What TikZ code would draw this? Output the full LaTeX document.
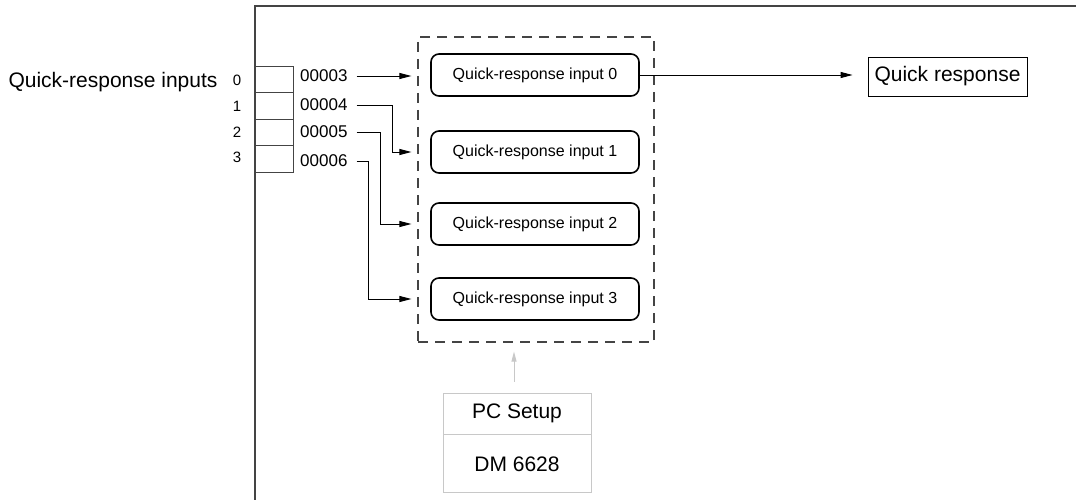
\documentclass[tikz,border=0pt]{standalone}
\usepackage{fontspec}
\setmainfont{Liberation Sans}
\usepackage{tikz}
\usetikzlibrary{positioning,arrows.meta,calc}
\definecolor{framegray}{HTML}{444444}
\definecolor{setupgray}{HTML}{C8C8C8}

\begin{document}
\begin{tikzpicture}[
  x=1pt, y=-1pt,
  reg/.style={draw=framegray, line width=0.9pt, minimum width=38pt, minimum height=26.5pt, inner sep=0pt},
  bit/.style={font=\fontsize{15}{17}\selectfont, inner sep=0pt},
  code/.style={font=\fontsize{17}{20}\selectfont, anchor=west, inner sep=3pt},
  inbox/.style={draw, line width=1.6pt, rounded corners=8pt, minimum width=208pt, minimum height=42pt,
                font=\fontsize{16}{19}\selectfont},
  grpbox/.style={draw=framegray, line width=1.2pt, dash pattern=on 10pt off 7pt,
                 minimum width=236pt, minimum height=305pt},
  bigtxt/.style={font=\fontsize{21}{25}\selectfont},
  setup/.style={draw=setupgray, line width=0.9pt, minimum width=148pt, font=\fontsize{21}{25}\selectfont},
  arr/.style={-{Triangle[length=12pt,width=6pt]}, line width=0.9pt},
  garr/.style={-{Triangle[length=10pt,width=5pt]}, line width=0.9pt, color=setupgray},
]
  \useasboundingbox (0,0) rectangle (1076,500);
  % frame
  \draw[framegray, line width=1.5pt] (255,500) -- (255,6) -- (1076,6);

  % input registers
  \node[bigtxt, anchor=east] (lbl) at (221,82) {Quick-response inputs};
  \node[reg] (r0) at (274,79.25)  {};
  \node[reg] (r1) at (274,105.75) {};
  \node[reg] (r2) at (274,132.25) {};
  \node[reg] (r3) at (274,158.75) {};
  \node[bit] (b0) at (237,80)  {0};
  \node[bit] (b1) at (237,106) {1};
  \node[bit] (b2) at (237,132) {2};
  \node[bit] (b3) at (237,157) {3};
  \node[code] (c0) at (297,76)  {00003};
  \node[code] (c1) at (297,105) {00004};
  \node[code] (c2) at (297,132) {00005};
  \node[code] (c3) at (297,161) {00006};

  % quick-response group
  \node[grpbox] (grp) at (536,189.5) {};
  \node[inbox] (in0) at (535,75)  {Quick-response input 0};
  \node[inbox] (in1) at (535,152) {Quick-response input 1};
  \node[inbox] (in2) at (535,224) {Quick-response input 2};
  \node[inbox] (in3) at (535,299) {Quick-response input 3};
  \node[draw, line width=0.9pt, bigtxt, minimum width=159pt, minimum height=39pt, inner sep=2pt]
    (resp) at (947.5,76.5) {Quick response};

  % PC Setup
  \node[setup, minimum height=41pt] (pc) at (517,413.5) {PC Setup};
  \node[setup, minimum height=58pt, below=0pt of pc] (dm) {DM 6628};

  \draw[arr, shorten <=6pt, shorten >=6pt] (c0.east) -- (c0.east -| grp.west);
  \draw[arr, shorten >=6pt] ([xshift=6pt]c1.east) -- ++(36,0) |- (in1.west -| grp.west);
  \draw[arr, shorten >=6pt] ([xshift=6pt]c2.east) -- ++(24,0) |- (in2.west -| grp.west);
  \draw[arr, shorten >=6pt] ([xshift=6pt]c3.east) -- ++(12,0) |- (in3.west -| grp.west);
  \draw[arr, shorten >=15pt] (in0.east) -- (in0.east -| resp.west);
  \draw[garr, shorten <=11pt, shorten >=9pt] ([xshift=-3pt]pc.north) -- ([xshift=-3pt]pc.north |- grp.south);
\end{tikzpicture}
\end{document}
